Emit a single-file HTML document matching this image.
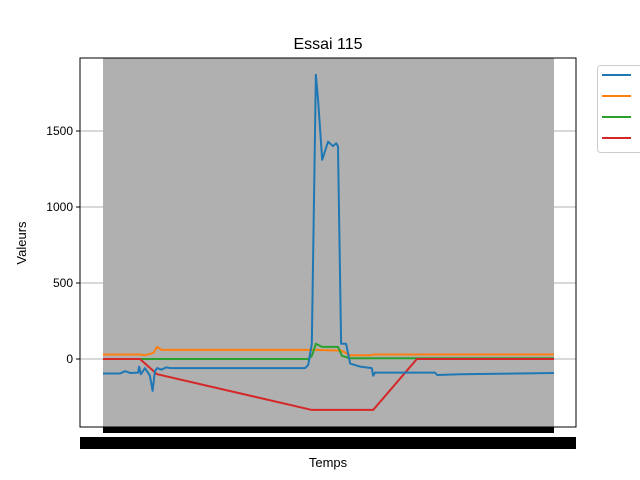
<!DOCTYPE html>
<html><head><meta charset="utf-8"><style>
body{margin:0;background:#fff}
svg{display:block;font-family:"Liberation Sans","DejaVu Sans",sans-serif}
</style></head><body>
<svg id="chart" width="640" height="480">
<text x="328" y="49" font-size="16" text-anchor="middle">Essai 115</text>
<text x="26" y="243" font-size="13" text-anchor="middle" transform="rotate(-90 26 243)">Valeurs</text>
<text x="328" y="467" font-size="13" text-anchor="middle">Temps</text>
<g id="plot"></g>
</svg>
<script>
const blueT=[0,3.8,4.9,6,7.8,8,8.4,9.3,10.4,11,11.5,12,13,14,15,20,44.8,45.5,46.3,47.2,47.7,48.6,49.9,51,51.7,52.1,52.8,53.9,54.8,57,59.6,59.9,60.3,73.6,74.1,79.2,100];
const blueV=[-95,-95,-80,-92,-90,-50,-100,-60,-110,-210,-80,-60,-70,-55,-60,-60,-60,-40,100,1870,1700,1310,1430,1400,1420,1400,100,100,-30,-50,-60,-110,-90,-90,-105,-100,-92];
const orangeT=[0,8.2,9.3,11.2,12,13,13.7,44.8,47,52.8,54.8,59.6,59.9,100];
const orangeV=[30,30,25,40,80,60,60,60,60,55,25,25,30,30];
const greenT=[0,45.5,46.3,47.2,48.6,52.1,53,54.8,100];
const greenV=[0,0,20,100,80,80,20,5,5];
const redT=[0,8.2,12,46.3,59.9,69.6,100];
const redV=[0,0,-100,-335,-335,0,0];
const yTicks=[0,500,1000,1500];
const ns="http://www.w3.org/2000/svg";
const g=document.getElementById('plot');
const X0=80,X1=576,Y0=58,Y1=427;
const xs=t=>103+t*4.51;
const ys=v=>359-v*0.152;
function mk(tag,attrs){const e=document.createElementNS(ns,tag);for(const k in attrs)e.setAttribute(k,attrs[k]);g.appendChild(e);return e;}
let e=mk('rect',{x:103,y:Y0,width:451,height:Y1-Y0,fill:'#b0b0b0'});


yTicks.forEach(v=>{
 let l=mk('line',{x1:X0,x2:X1,y1:ys(v),y2:ys(v),stroke:'#b0b0b0','stroke-width':1});
 
 
 let tk=mk('line',{x1:X0-4,x2:X0,y1:ys(v),y2:ys(v),stroke:'#000'});
 
 
 let t=mk('text',{x:X0-7,y:ys(v)+4,'font-size':12,'text-anchor':'end'});t.textContent=v;
 
 
});
function series(T,V,color,name){
 const p=mk('polyline',{points:T.map((t,i)=>xs(t)+','+ys(V[i])).join(' '),fill:'none',stroke:color,'stroke-width':2,'stroke-linejoin':'round'});
 
 
}
series(orangeT,orangeV,'#ff7f0e','series-orange');
series(greenT,greenV,'#2ca02c','series-green');
series(redT,redV,'#d62728','series-red');
series(blueT,blueV,'#1f77b4','series-blue');
e=mk('rect',{x:X0,y:Y0,width:X1-X0,height:Y1-Y0,fill:'none',stroke:'#000','stroke-width':1});


e=mk('rect',{x:103,y:427,width:451,height:6,fill:'#000'});


e=mk('rect',{x:80,y:437,width:496,height:12,fill:'#000'});


e=mk('rect',{x:597.5,y:65.5,width:50,height:87,rx:3,fill:'#fff',stroke:'#ccc'});


['#1f77b4','#ff7f0e','#2ca02c','#d62728'].forEach((c,i)=>{
 let l=mk('line',{x1:602,x2:631,y1:75+i*21,y2:75+i*21,stroke:c,'stroke-width':2});
 
 
});
</script>
</body></html>
